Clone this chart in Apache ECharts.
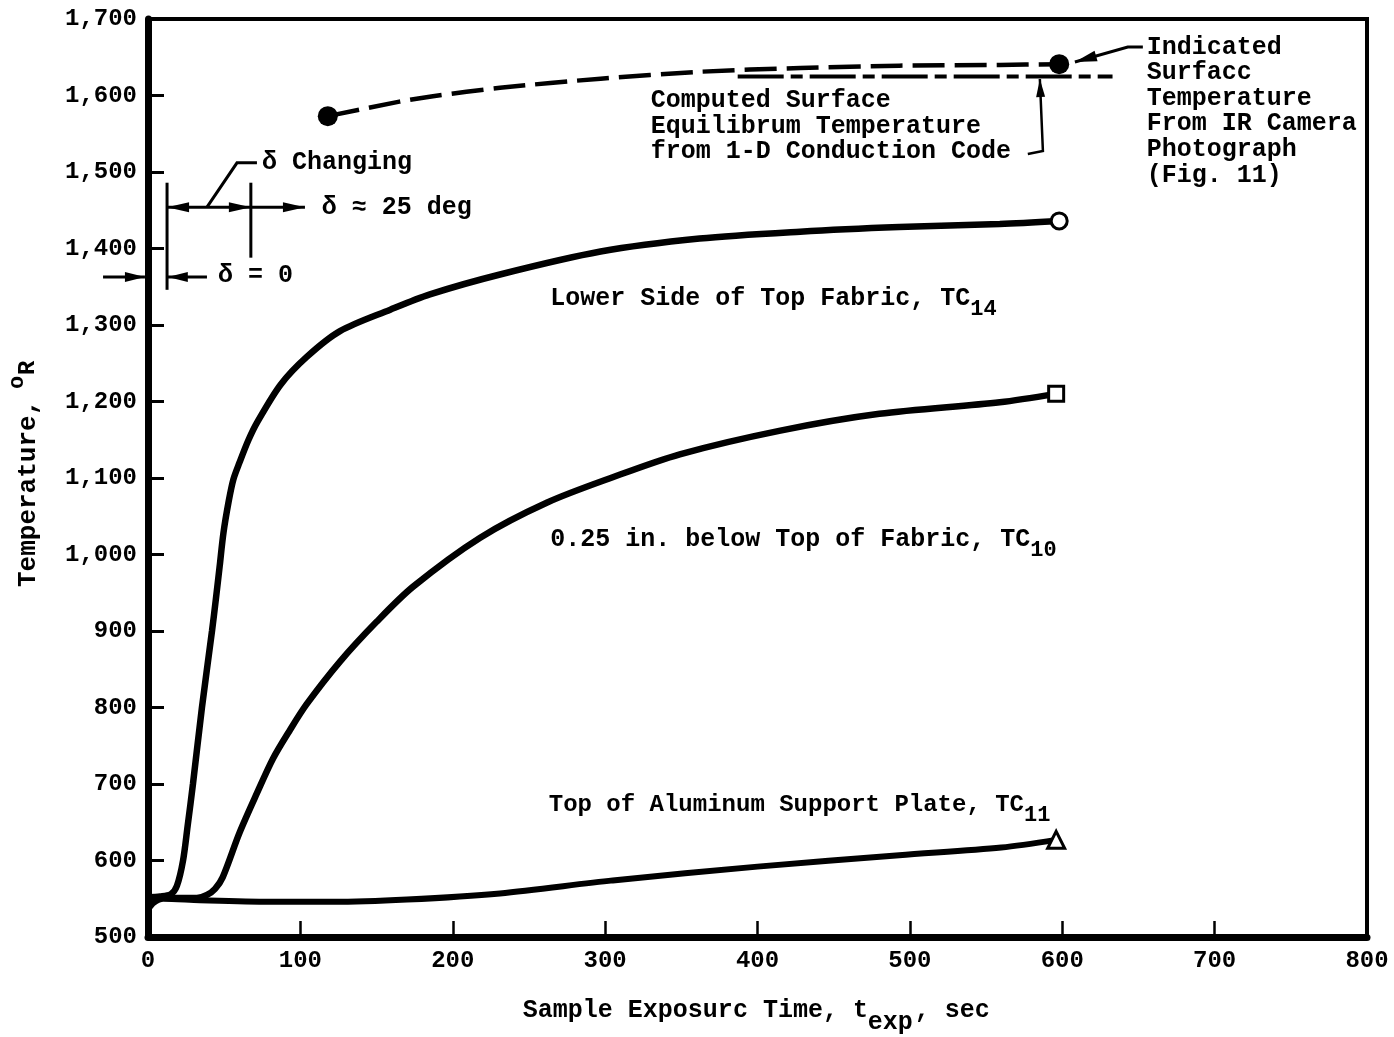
<!DOCTYPE html>
<html>
<head>
<meta charset="utf-8">
<script src="https://cdn.jsdelivr.net/npm/echarts@6/dist/echarts.min.js"></script>
<style>
  html, body { margin: 0; padding: 0; background: #fff; }
  #chart { width: 1394px; height: 1037px; }
</style>
</head>
<body>
<div id="chart"></div>
<script>
// Axis ranges and tick steps
const xRange = [0, 800];
const xStep = 100;
const yRange = [500, 1700];
const yStep = 100;

// Measured temperatures [time s, temperature degR]
const tc14 = [[0,552],[8,553],[15,556],[19,567],[23,600],[26,645],[29.5,700],[35.4,800],[42,900],[44.5,941],[47,984],[49.5,1028],[53,1070],[56,1098],[60,1120],[66,1150],[72,1174],[87,1222],[104,1258],[126,1292],[159,1320],[185,1340],[231,1366],[297,1396],[362,1413],[428,1422],[493,1428],[559,1432],[598,1436]];
const tc10 = [[0,552],[20,551],[32,551],[38.7,555],[44,563],[49,578],[60,636],[71.5,688],[82,733],[93,770],[104,804],[126,860],[150,912],[174,958],[218,1022],[262,1068],[305,1101],[349,1131],[415,1162],[480,1184],[559,1199],[596,1210]];
const tc11 = [[0,536],[4,545],[10,550],[34,548],[80,546],[121,546],[170,549],[231,557],[305,574],[400,592],[493,607],[560,617],[596,627]];
const indicatedSurface = [[118,1573],[165,1592],[187,1599],[231,1610],[297,1622],[362,1631],[428,1636],[493,1639],[559,1640],[598,1641]];
const computedEquilibrium = [[387,1625],[633,1625]];

const FONT = '"Liberation Mono", "Courier New", monospace';
const INK = '#000';

function fmtThousands(v) {
  if (v < 1000) return String(v);
  return Math.floor(v / 1000) + ',' + String(v % 1000).padStart(3, '0');
}

const last = arr => arr[arr.length - 1];

const chart = echarts.init(document.getElementById('chart'), null, { renderer: 'canvas' });

const option = {
  animation: false,
  backgroundColor: '#fff',
  grid: {
    left: 148, right: 27, top: 19, bottom: 100,
    show: true, borderColor: INK, borderWidth: 4,
    containLabel: false, outerBoundsMode: 'none'
  },
  xAxis: {
    type: 'value', min: xRange[0], max: xRange[1], interval: xStep,
    axisLine: { show: true, onZero: false, lineStyle: { color: INK, width: 7 } },
    axisTick: { show: true, inside: true, length: 16, lineStyle: { color: INK, width: 2.5 } },
    axisLabel: { margin: 12, color: INK, fontFamily: FONT, fontWeight: 'bold', fontSize: 24 },
    splitLine: { show: false }
  },
  yAxis: {
    type: 'value', min: yRange[0], max: yRange[1], interval: yStep,
    axisLine: { show: true, onZero: false, lineStyle: { color: INK, width: 7 } },
    axisTick: { show: true, inside: true, length: 16, lineStyle: { color: INK, width: 3 } },
    axisLabel: { margin: 11, color: INK, fontFamily: FONT, fontWeight: 'bold', fontSize: 24, formatter: fmtThousands },
    splitLine: { show: false }
  },
  series: [
    { name: 'TC14', type: 'line', data: tc14, smooth: 0.3, symbol: 'none',
      lineStyle: { color: INK, width: 6.5 }, z: 3 },
    { name: 'TC10', type: 'line', data: tc10, smooth: 0.3, symbol: 'none',
      lineStyle: { color: INK, width: 6.5 }, z: 3 },
    { name: 'TC11', type: 'line', data: tc11, smooth: 0.3, symbol: 'none',
      lineStyle: { color: INK, width: 6 }, z: 3 },
    { name: 'Indicated', type: 'line', data: indicatedSurface, smooth: 0.3, symbol: 'none',
      lineStyle: { color: INK, width: 4.5, type: [32, 10] }, z: 3 },
    { name: 'Computed', type: 'line', data: computedEquilibrium, symbol: 'none',
      lineStyle: { color: INK, width: 4, type: [46, 7, 12, 7] }, z: 3 },
    { name: 'TC14 end', type: 'scatter', data: [last(tc14)], symbol: 'circle', symbolSize: 16,
      itemStyle: { color: '#fff', borderColor: INK, borderWidth: 3, opacity: 1 }, z: 5 },
    { name: 'TC10 end', type: 'scatter', data: [last(tc10)], symbol: 'rect', symbolSize: 15,
      itemStyle: { color: '#fff', borderColor: INK, borderWidth: 3, opacity: 1 }, z: 5 },
    { name: 'TC11 end', type: 'scatter', data: [last(tc11)], symbol: 'triangle', symbolSize: 17,
      itemStyle: { color: '#fff', borderColor: INK, borderWidth: 3, opacity: 1 }, z: 5 },
    { name: 'Indicated ends', type: 'scatter', data: [indicatedSurface[0], last(indicatedSurface)],
      symbol: 'circle', symbolSize: 20, itemStyle: { color: INK, opacity: 1 }, z: 5 }
  ]
};

chart.setOption(option);

// ---- annotations, anchored in data units ----
const P = (t, T) => chart.convertToPixel({ gridIndex: 0 }, [t, T]);

function txt(p, text, size, extra) {
  return Object.assign({
    type: 'text', x: p[0], y: p[1], z: 20,
    style: { text: text, fill: INK, fontFamily: FONT, fontWeight: 'bold', fontSize: size,
             align: 'left', verticalAlign: 'middle' }
  }, extra || {});
}
function line(points, w) {
  return { type: 'polyline', z: 20, shape: { points: points }, style: { stroke: INK, lineWidth: w || 3, fill: null } };
}
function head(tip, from, len, wid) {
  const dx = tip[0] - from[0], dy = tip[1] - from[1];
  const d = Math.hypot(dx, dy) || 1;
  const ux = dx / d, uy = dy / d;
  const bx = tip[0] - ux * len, by = tip[1] - uy * len;
  return { type: 'polygon', z: 21,
    shape: { points: [tip, [bx - uy * wid / 2, by + ux * wid / 2], [bx + uy * wid / 2, by - ux * wid / 2]] },
    style: { fill: INK } };
}
// curve label with a subscript
function curveLabel(at, main, sub, size) {
  const p = P(at[0], at[1]);
  const w = main.length * size * 0.6;
  return [txt(p, main, size), txt([p[0] + w, p[1] + 10], sub, 22)];
}

const labelAnchors = {
  tc14: [264, 1334],
  tc10: [264, 1019],
  tc11: [263, 672.5],
  computed: [330, 1593],
  indicated: [655.5, 1663],
  deltaChanging: [74.8, 1512],
  delta25: [114, 1453],
  delta0: [46, 1364]
};

const g = [];
g.push(...curveLabel(labelAnchors.tc14, 'Lower Side of Top Fabric, TC', '14', 25));
g.push(...curveLabel(labelAnchors.tc10, '0.25 in. below Top of Fabric, TC', '10', 25));
g.push(...curveLabel(labelAnchors.tc11, 'Top of Aluminum Support Plate, TC', '11', 24));

// block notes
const lh = 25.6;
(function () {
  const p = P(...labelAnchors.computed);
  const a = txt([p[0], p[1] - lh / 2], 'Computed Surface\nEquilibrum Temperature\nfrom 1-D Conduction Code', 25);
  a.style.verticalAlign = 'top';
  a.style.lineHeight = lh;
  g.push(a);
  const q = P(...labelAnchors.indicated);
  const b = txt([q[0], q[1] - lh / 2], 'Indicated\nSurfacc\nTemperature\nFrom IR Camera\nPhotograph\n(Fig. 11)', 25);
  b.style.verticalAlign = 'top';
  b.style.lineHeight = lh;
  g.push(b);
})();

// leader to the computed line
(function () {
  const a = P(577.4, 1523.5), b = P(587.3, 1527.5), tip = P(585.3, 1621.6);
  g.push(line([a, b, tip], 2.5));
  g.push(head(tip, b, 18, 9));
})();
// leader to the indicated point
(function () {
  const a = P(652.9, 1663.4), b = P(643, 1663.4), tip = P(608.3, 1643.8);
  g.push(line([a, b, tip], 3));
  g.push(head(tip, b, 22, 11));
})();

// yaw-angle schedule markers
(function () {
  const y = 1454;
  const x0 = 12.5, x1 = 67.5;
  g.push(line([P(x0, 1486), P(x0, 1346)], 3));
  g.push(line([P(x1, 1486), P(x1, 1388)], 3));
  g.push(line([P(x0, y), P(103, y)], 3));
  g.push(head(P(x0, y), P(x1, y), 22, 10));
  g.push(head(P(x1, y), P(x0, y), 22, 10));
  g.push(head(P(103, y), P(x1, y), 22, 10));
  // delta = 0 pointers
  const y0 = 1362.7;
  g.push(line([P(-29.5, y0), P(-2, y0)], 3));
  g.push(head(P(-2, y0), P(-29.5, y0), 20, 10));
  g.push(line([P(38.7, y0), P(13, y0)], 3));
  g.push(head(P(13, y0), P(38.7, y0), 20, 10));
  // "changing" leader
  g.push(line([P(38.7, y), P(58.4, 1512), P(71.5, 1512)], 3));
  g.push(txt(P(...labelAnchors.deltaChanging), '\u03b4 Changing', 25));
  g.push(txt(P(...labelAnchors.delta25), '\u03b4 \u2248 25 deg', 25));
  g.push(txt(P(...labelAnchors.delta0), '\u03b4 = 0', 25));
})();

// axis titles
(function () {
  const xl = P(246, 500), xBase = [xl[0], 1011];
  g.push(txt(xBase, 'Sample Exposurc Time, t', 25));
  const w1 = 23 * 25 * 0.6;
  g.push(txt([xBase[0] + w1, xBase[1] + 12], 'exp', 25));
  g.push(txt([xBase[0] + w1 + 3 * 15 + 2, xBase[1]], ', sec', 25));

  const yBase = [28, 587];
  g.push(txt(yBase, 'Temperature,', 26, { rotation: Math.PI / 2 }));
  g.push(txt([17, 389], 'o', 22, { rotation: Math.PI / 2 }));
  g.push(txt([28, 375], 'R', 24, { rotation: Math.PI / 2 }));
})();

chart.setOption({ graphic: g });
</script>
</body>
</html>
